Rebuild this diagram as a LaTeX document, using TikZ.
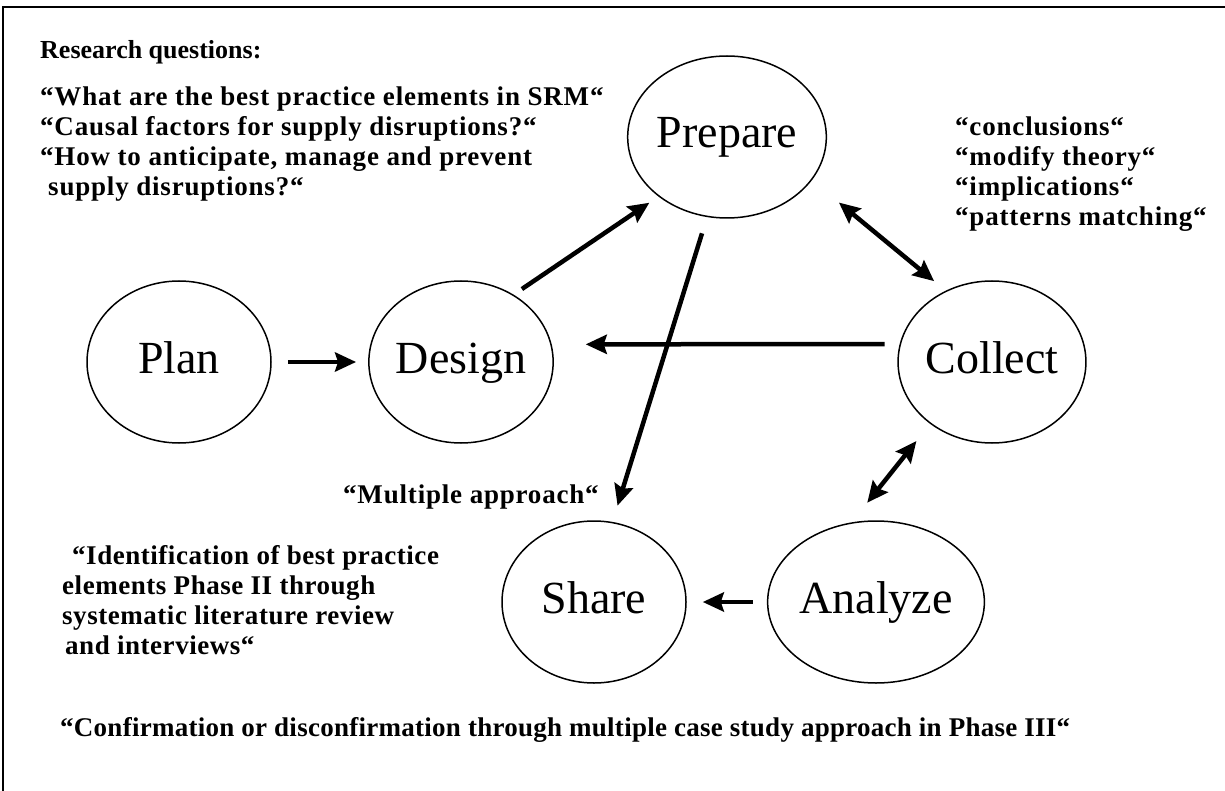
\documentclass[tikz,border=0pt]{standalone}
\usepackage{fontspec}
\setmainfont{Liberation Serif}
\newfontfamily\notewide[LetterSpace=3]{Liberation Serif}
\newfontfamily\notemid[LetterSpace=2]{Liberation Serif}
\newfontfamily\notenarrow[LetterSpace=1]{Liberation Serif}
\usetikzlibrary{shapes.geometric,arrows.meta}
\begin{document}
\begin{tikzpicture}[x=1pt,y=-1pt,
  stage/.style={ellipse, draw, line width=1.5pt, minimum width=184pt, minimum height=162pt,
    inner sep=0pt, text height=31pt, text depth=9pt, font=\fontsize{46}{50}\selectfont},
  flow/.style={line width=4.5pt, -{Stealth[length=21pt,width=19pt,inset=3pt]}},
  both/.style={line width=4.5pt, {Stealth[length=21pt,width=19pt,inset=3pt]}-{Stealth[length=21pt,width=19pt,inset=3pt]}},
  note/.style={font=\notewide\bfseries\fontsize{27}{30}\selectfont, anchor=west, inner sep=0pt, align=left}
]
\useasboundingbox (0,0) rectangle (1225,791);
% frame
\draw[line width=2pt] (3,791) -- (3,7) -- (1225,7);

% stages of the cycle
\node[stage] (plan)    at (179,362) {Plan};
\node[stage] (design)  at (461,362) {Design};
\node[stage] (prepare) at (727,137) {Prepare};
\node[stage] (collect) at (992,362) {Collect};
\node[stage] (share)   at (594,602) {Share};
\node[stage] (analyze) at (876,602) {Analyze};

% connectors
\draw[flow, shorten <=16pt, shorten >=12pt] (plan) -- (design);
\draw[flow, shorten <=10pt, shorten >=11pt] (design.52) -- (prepare.221);
\draw[flow, shorten <=17pt, shorten >=17pt] (prepare.-104) -- (share.77);
\draw[flow, shorten <=15pt, shorten >=34pt] (collect.169) -- (design.11);
\draw[both, shorten <=35pt, shorten >=15pt] (prepare.-27) -- (collect.123);
\draw[both, shorten <=22pt, shorten >=25pt] (collect.225) -- (analyze.107);
\draw[flow, shorten <=14pt, shorten >=16pt] (analyze) -- (share);

% annotations
\node[note, font=\rmfamily\bfseries\fontsize{26}{30}\selectfont] (rq) at (40,52) {Research questions:};
\node[note] (qs) at (40,144) {“What are the best practice elements in SRM“\\
“Causal factors for supply disruptions?“\\
“How to anticipate, manage and prevent\\
\hspace*{8pt}supply disruptions?“};
\node[note] (res) at (955,174) {“conclusions“\\ “modify theory“\\ “implications“\\ “patterns matching“};
\node[note] (ma) at (343,497) {“Multiple approach“};
\node[note, font=\notemid\bfseries\fontsize{27}{30}\selectfont] (id) at (62,600) {\hspace*{10pt}“Identification of best practice\\
elements Phase II through\\
systematic literature review\\
\hspace*{3pt}and interviews“};
\node[note, font=\notenarrow\bfseries\fontsize{27}{30}\selectfont] (cf) at (60,730) {“Confirmation or disconfirmation through multiple case study approach in Phase III“};
\end{tikzpicture}
\end{document}
